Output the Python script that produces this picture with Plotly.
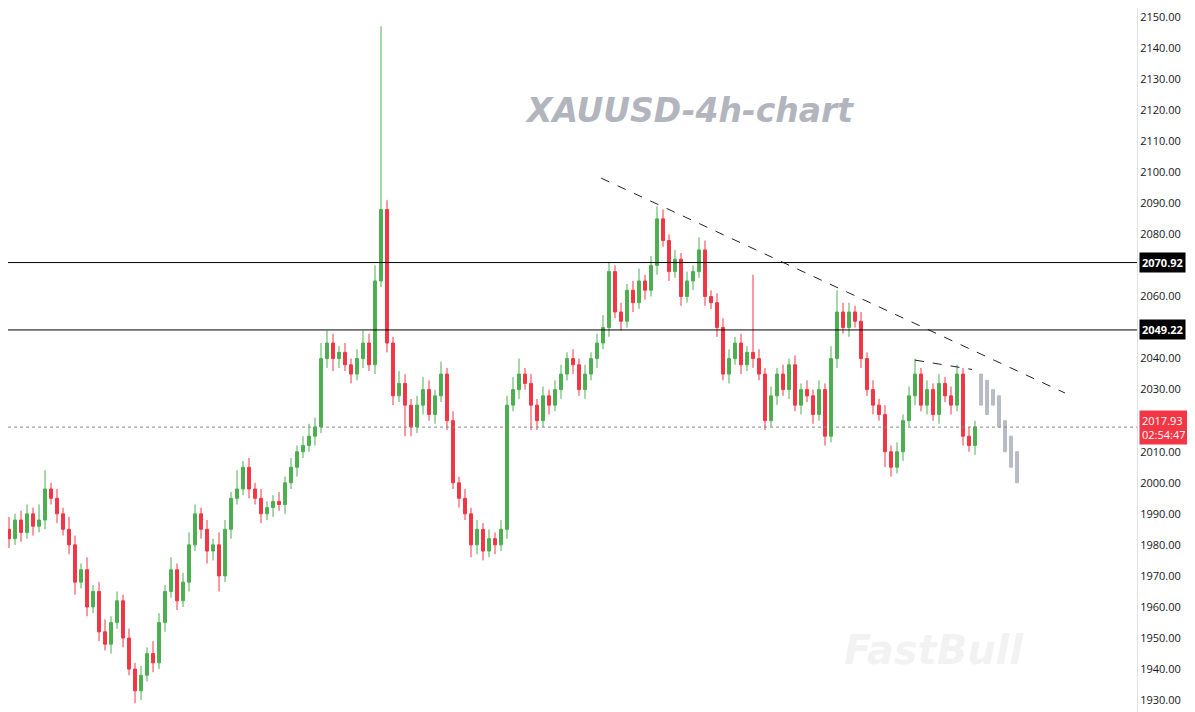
import plotly.graph_objects as go

closes = [1985,1982,1988,1984,1990,1986,1988,1998,1995,1990,1985,1980,1968,1972,1960,1965,1952,1948,1955,1962,
          1950,1940,1933,1938,1945,1942,1955,1965,1972,1962,1968,1980,1990,1985,1978,1980,1970,1985,1995,1998,
          2005,1998,1995,1990,1992,1994,1993,2000,2005,2010,2012,2015,2018,2040,2045,2040,2042,2038,2035,2040,
          2045,2038,2065,2088,2045,2028,2032,2025,2018,2025,2030,2022,2028,2035,2020,2000,1995,1990,1980,1985,
          1978,1982,1980,1985,2025,2030,2035,2032,2025,2020,2028,2025,2030,2035,2040,2038,2030,2035,2040,2045,
          2050,2068,2055,2052,2062,2058,2065,2062,2070,2085,2078,2068,2072,2060,2065,2068,2075,2060,2058,2050,
          2035,2040,2045,2038,2042,2040,2035,2020,2028,2035,2030,2038,2025,2030,2028,2022,2030,2015,2040,2055,
          2050,2055,2052,2040,2030,2025,2022,2010,2005,2010,2020,2028,2035,2025,2030,2022,2032,2028,2025,2035,
          2015,2012,2018]
first_open = 1988
up = [3,4,2,3,3,2,5,6,2,3,2,4,3,2,4,2,3,4,2,3,
      2,3,2,3,2,4,3,2,4,2,3,4,3,2,3,2,4,3,2,6,
      2,3,2,3,2,2,3,2,3,2,3,4,3,5,4,3,2,3,2,3,
      4,3,5,59,3,2,4,3,2,3,4,3,2,4,2,3,2,3,2,3,
      2,3,2,3,3,4,5,2,3,2,3,2,3,3,2,3,2,3,2,3,
      4,3,2,3,2,3,4,2,3,4,3,2,3,2,3,2,4,3,2,3,
      3,3,2,3,2,25,3,2,3,2,3,2,3,2,3,2,3,2,4,7,
      3,3,2,3,2,3,2,3,2,3,2,3,5,2,3,2,3,2,3,3,
      2,3,2]
dn = [4,3,2,3,2,3,2,3,2,3,2,3,4,2,3,2,3,2,3,2,
      3,2,4,3,2,3,2,3,2,3,2,3,2,3,4,3,5,2,3,2,
      2,3,2,3,2,3,2,3,2,3,2,2,3,2,3,4,3,2,3,2,
      3,2,3,2,3,3,2,10,3,2,3,2,3,2,3,2,3,2,4,3,
      3,2,3,2,3,2,3,2,8,3,2,3,2,3,2,3,2,3,2,3,
      2,3,2,3,2,3,2,3,2,3,2,3,2,3,2,3,2,3,2,3,
      2,3,2,3,2,3,2,3,2,3,2,3,2,3,2,3,2,3,2,3,
      2,3,2,3,2,3,2,5,3,2,3,2,3,2,3,2,3,2,3,2,
      3,2,3]
ghost_open = [2025,2033,2030,2028,2020,2015,2010]
ghost_close = [2035,2022,2025,2018,2010,2005,2000]
ghost_idx = [163,164,165,166,167,168,169]
level_a, level_b, last_price = 2070.92, 2049.22, 2017.93
trend_idx, trend_val = [99.7, 177], [2098.1, 2028.9]
trend2_idx, trend2_val = [152, 161.5], [2039.5, 2036.5]
yticks = list(range(1930, 2151, 10))

n = len(closes)
opens = [first_open] + closes[:-1]
highs = [max(o, c) + u for o, c, u in zip(opens, closes, up)]
lows = [min(o, c) - d for o, c, d in zip(opens, closes, dn)]
x = list(range(n))

fig = go.Figure()
fig.add_trace(go.Candlestick(x=x, open=opens, high=highs, low=lows, close=closes,
    increasing=dict(line=dict(color='#4caf50', width=1), fillcolor='#4caf50'),
    decreasing=dict(line=dict(color='#f23645', width=1), fillcolor='#f23645'),
    whiskerwidth=0, showlegend=False, hoverinfo='skip'))
fig.add_trace(go.Candlestick(x=ghost_idx, open=ghost_open, close=ghost_close,
    high=[max(a, b) for a, b in zip(ghost_open, ghost_close)],
    low=[min(a, b) for a, b in zip(ghost_open, ghost_close)],
    increasing=dict(line=dict(color='#b8bcc6', width=1), fillcolor='#b8bcc6'),
    decreasing=dict(line=dict(color='#b8bcc6', width=1), fillcolor='#b8bcc6'),
    whiskerwidth=0, showlegend=False, hoverinfo='skip'))
fig.add_trace(go.Scatter(x=trend_idx, y=trend_val, mode='lines',
    line=dict(color='#222', width=1, dash='dash'), showlegend=False))
fig.add_trace(go.Scatter(x=trend2_idx, y=trend2_val, mode='lines',
    line=dict(color='#222', width=1, dash='dash'), showlegend=False))

for lv in (level_a, level_b):
    fig.add_hline(y=lv, line=dict(color='#000', width=1))
    fig.add_annotation(x=1.002, xref='paper', y=lv, text=f'<b>{lv:.2f}</b>', showarrow=False,
        xanchor='left', bgcolor='#000', font=dict(color='#fff', size=11), borderpad=2)
fig.add_hline(y=last_price, line=dict(color='#888', width=1, dash='dot'))
fig.add_annotation(x=1.002, xref='paper', y=last_price, text=f'{last_price:.2f}<br>02:54:47',
    showarrow=False, xanchor='left', bgcolor='#f23645', font=dict(color='#fff', size=11),
    borderpad=2, align='left')
fig.add_annotation(x=0.604, xref='paper', y=2120, text='<b><i>XAUUSD-4h-chart</i></b>',
    showarrow=False, font=dict(size=33, color='#b2b5be', family='DejaVu Sans'))
fig.add_annotation(x=0.902, xref='paper', y=1946, text='<b><i>FastBull</i></b>',
    showarrow=False, font=dict(size=40, color='rgba(200,200,200,0.22)', family='DejaVu Sans'))

fig.update_layout(width=1195, height=712, margin=dict(l=0, r=66, t=0, b=0, autoexpand=False),
    paper_bgcolor='#fff', plot_bgcolor='#fff',
    xaxis=dict(range=[0.83, 189.0], showgrid=False, visible=False, rangeslider=dict(visible=False)),
    yaxis=dict(range=[1923.6, 2152.9], side='right', tickvals=yticks,
        ticktext=[f'{v:.2f}' for v in yticks], showgrid=False, ticks='', zeroline=False,
        showline=True, linecolor='#e0e3eb', tickfont=dict(size=11, color='#131722')))
fig.write_html('out.html')
